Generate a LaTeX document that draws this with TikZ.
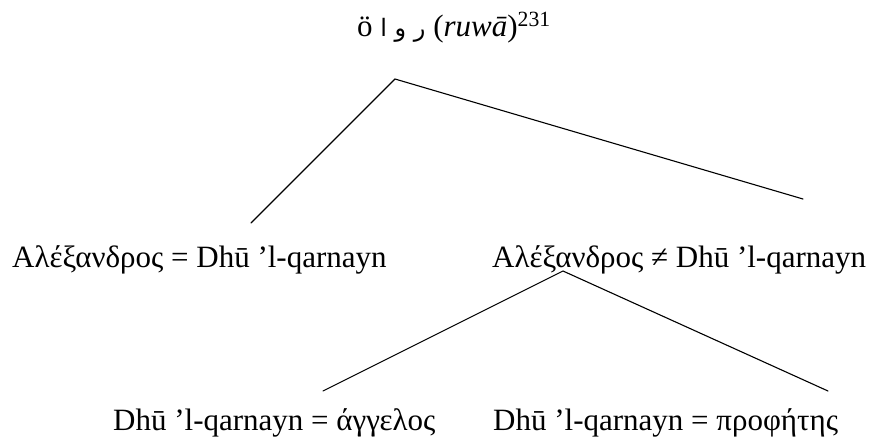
\documentclass[tikz,border=0pt]{standalone}
\usepackage{fontspec}
\setmainfont{Liberation Serif}
\newfontfamily\arabicfont[Script=Arabic]{DejaVu Sans}
\TeXXeTstate=1
\tikzset{
  lbl/.style={inner sep=0pt, anchor=base west, font=\fontsize{31}{36}\selectfont},
  branch/.style={line width=1.1pt, line cap=round, line join=miter}
}
\begin{document}
\begin{tikzpicture}[x=1pt,y=-1pt]
\useasboundingbox (0,0) rectangle (881,437);
\node[lbl] (top) at (357,36) {ö {\arabicfont\fontsize{24}{30}\selectfont\beginR ر و ا\endR} (\textit{ruwā})\textsuperscript{231}};
\node[lbl] (eq) at (12,267) {Αλέξανδρος = Dhū ’l-qarnayn};
\node[lbl] (neq) at (492,267) {Αλέξανδρος ≠ Dhū ’l-qarnayn};
\node[lbl] (angel) at (113,430) {Dhū ’l-qarnayn = άγγελος};
\node[lbl] (proph) at (493,430) {Dhū ’l-qarnayn = προφήτης};
\coordinate (apex1) at (395,79);
\coordinate (end1l) at (251,223);
\coordinate (end1r) at (803,199);
\coordinate (apex2) at (563,271);
\coordinate (end2l) at (323,391);
\coordinate (end2r) at (828,391);
\draw[branch] (end1l) -- (apex1) -- (end1r);
\draw[branch] (end2l) -- (apex2) -- (end2r);
\end{tikzpicture}
\end{document}
